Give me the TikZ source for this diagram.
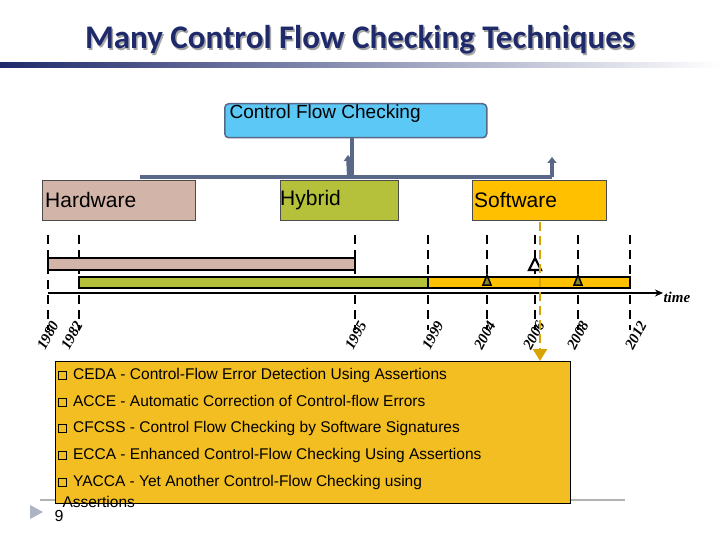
\documentclass[tikz,border=0pt]{standalone}
\usepackage{fontspec}
\setmainfont{Liberation Sans}
\newfontfamily\titlefont{Carlito}
\newfontfamily\yearfont{Liberation Serif}
\usetikzlibrary{arrows.meta}
\definecolor{navy}{HTML}{1F2A6B}
\definecolor{conn}{HTML}{5A6888}
\definecolor{pinkc}{HTML}{D2B4A8}
\definecolor{greenc}{HTML}{B5C13A}
\definecolor{orangec}{HTML}{FFC000}
\definecolor{boxc}{HTML}{F2BE22}
\definecolor{bluec}{HTML}{5BC8F5}
\newcommand{\sqbul}{\tikz[baseline=0pt]\draw[line width=0.6pt] (0,0) rectangle (8pt,8pt);}
\tikzset{
  catbox/.style={draw=black!70,minimum height=40pt,inner sep=0pt,font=\fontsize{21}{23}\selectfont,anchor=north west,align=left},
  tick/.style={dashed,dash pattern=on 9pt off 6pt,line width=1.8pt},
  yearlbl/.style={font=\yearfont\itshape\bfseries\fontsize{15}{16}\selectfont,rotate=62,anchor=east,inner sep=0pt},
  conline/.style={draw=conn,line width=4pt},
  listline/.style={anchor=west,font=\fontsize{15.5}{17}\selectfont}
}
\begin{document}
\begin{tikzpicture}[x=1pt,y=-1pt]
\useasboundingbox (0,0) rectangle (720,540);
% title
\node[font=\titlefont\bfseries\fontsize{33}{36}\selectfont,text=black!35] at (361.5,41.5) {Many Control Flow Checking Techniques};
\node (title) [font=\titlefont\bfseries\fontsize{33}{36}\selectfont,text=navy] at (360,40) {Many Control Flow Checking Techniques};
\shade[left color=navy,right color=white] (0,63) rectangle (720,68);
% top box
\node (cfc) [draw=conn,line width=1.5pt,fill=bluec,rounded corners=4pt,minimum width=262pt,minimum height=34pt,anchor=north west] at (224,103) {};
\node[font=\fontsize{19}{21}\selectfont,anchor=west] at (226,114) {Control Flow Checking};
\node (hw) [catbox,fill=pinkc,minimum width=153pt,text width=147pt] at (42,180) {Hardware};
\node (hy) [catbox,fill=greenc,minimum width=118pt,text width=118pt] at (280,180) {Hybrid};
\node (sw) [catbox,fill=orangec,minimum width=134pt,text width=130pt] at (472,180) {Software};
% connectors
\coordinate (bl) at (140,177);
\coordinate (br) at (552,177);
\coordinate (bm) at (352,177);
\coordinate (ar) at (552,157);
\coordinate (am) at (348,155);
\draw[conline] (bl) -- (br);
\draw[conline] (cfc.south -| bm) -- (bm);
\draw[conline,-{Triangle[length=6pt,width=9pt]}] (bm) ++(-3,0) -- (am);
\draw[conline,-{Triangle[length=6pt,width=9pt]}] (br) -- (ar);
% ticks
\foreach \x/\y in {48/1980,79/1982,355/1995,428/1999,487/2004,535/2006,578/2008,630/2012}{
  \coordinate (t\y) at (\x,235);
  \coordinate (b\y) at (\x,330);
  \draw[tick] (t\y) -- (b\y);
}
\node[yearlbl] at (55,322) {1980};
\node[yearlbl] at (79,322) {1982};
\node[yearlbl] at (363,322) {1995};
\node[yearlbl] at (440,322) {1999};
\node[yearlbl] at (492,322) {2004};
\node[yearlbl] at (541,322) {2006};
\node[yearlbl] at (585,322) {2008};
\node[yearlbl] at (643,322) {2012};
% bars
\draw[line width=2.2pt,fill=pinkc] (48,258) rectangle (355,270);
\draw[line width=2.2pt,fill=greenc] (79,277) rectangle (428,288);
\draw[line width=2.2pt,fill=orangec] (428,277) rectangle (630,288);
\draw[line width=2.2pt,fill=white] (529,270) -- (535,258) -- (541,270) -- cycle;
\draw[line width=1.5pt,fill=greenc!70!black] (483,285) -- (487,275) -- (491,285) -- cycle;
\draw[line width=1.5pt,fill=greenc!70!black] (574,285) -- (578,275) -- (582,285) -- cycle;
% time axis
\coordinate (ax0) at (48,293);
\coordinate (ax1) at (663,293);
\draw[line width=2.4pt,-{Stealth[length=8pt,width=7pt]}] (ax0) -- (ax1);
\node (time) [font=\yearfont\itshape\bfseries\fontsize{15}{16}\selectfont,anchor=west] at (660,297) {time};
% list box
\draw[gray!60,line width=1.5pt] (40,500) -- (625,500);
\node (list) [draw=black,fill=boxc,minimum width=515pt,minimum height=142pt,anchor=north west] at (55,361) {};
\coordinate (sd) at (540,222);
\draw[orangec!85!black,line width=2.5pt,dashed,dash pattern=on 9pt off 5pt,-{Triangle[length=12pt,width=14pt]}] (sd) -- (540,361);
\foreach \yy/\t in {375/{CEDA - Control-Flow Error Detection Using Assertions},401/{ACCE - Automatic Correction of Control-flow Errors},428/{CFCSS - Control Flow Checking by Software Signatures},455/{ECCA - Enhanced Control-Flow Checking Using Assertions},482/{YACCA - Yet Another Control-Flow Checking using}}{
  \node[listline] at (54,\yy) {\sqbul\hspace{7pt}\t};
}
\node[listline] at (59,502) {Assertions};
\fill[conn!50] (30,505) -- (43,512) -- (30,519) -- cycle;
\node[listline,font=\fontsize{16}{17}\selectfont] at (51,516) {9};
\end{tikzpicture}
\end{document}
